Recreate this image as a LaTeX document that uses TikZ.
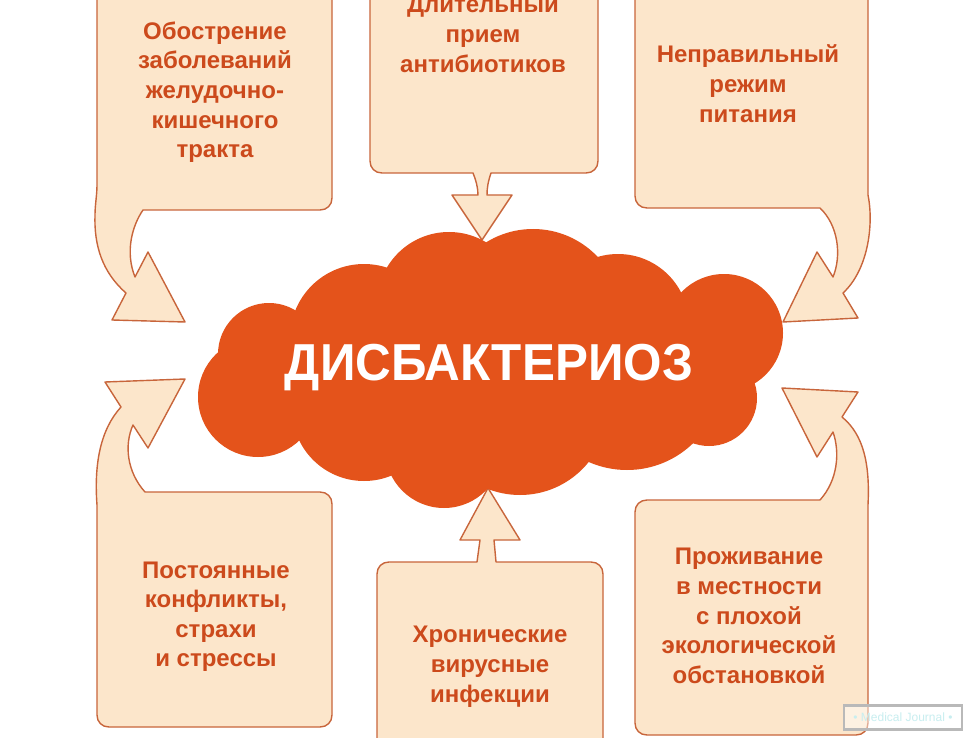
\documentclass[tikz,border=0pt]{standalone}
\usepackage{fontspec}
\setmainfont{Liberation Sans}
\definecolor{boxfill}{HTML}{FCE6CB}
\definecolor{boxline}{HTML}{C8653B}
\definecolor{txt}{HTML}{CC4A1C}
\definecolor{cloudc}{HTML}{E4531B}
\definecolor{wmtext}{HTML}{C8EEF0}
\begin{document}
\begin{tikzpicture}[x=1pt,y=-1pt,
  callout/.style={fill=boxfill,draw=boxline,line width=1.4pt,line join=round},
  lbl/.style={text=txt,font=\fontsize{24}{29.6}\selectfont\bfseries,align=center,inner sep=0pt},
  cloudpart/.style={fill=cloudc}]
\useasboundingbox (0,0) rectangle (969,738);
\clip (0,0) rectangle (969,738);
\fill[white] (0,0) rectangle (969,738);

% top-left callout
\path[callout] (97,-20) -- (332,-20) -- (332,198) .. controls (332,205) and (327,210) .. (320,210)
  -- (143,210) .. controls (132,226) and (125,252) .. (135,277) -- (148,252) -- (185,322) -- (112,320)
  -- (126,293) .. controls (102,272) and (94,245) .. (95,215) .. controls (95,205) and (97,195) .. (97,185) -- cycle;
% top-centre callout
\path[callout] (370,-20) -- (598,-20) -- (598,161) .. controls (598,168) and (593,173) .. (586,173)
  -- (491,173) .. controls (488,182) and (487,188) .. (487,195) -- (512,195) -- (482,240) -- (452,195)
  -- (478,195) .. controls (478,188) and (476,180) .. (473,173) -- (382,173) .. controls (375,173) and (370,168) .. (370,161) -- cycle;
% top-right callout
\path[callout] (635,-20) -- (868,-20) -- (868,195) .. controls (874,225) and (868,270) .. (843,293)
  -- (858,318) -- (783,322) -- (817,252) -- (833,277) .. controls (842,255) and (838,225) .. (820,208)
  -- (647,208) .. controls (640,208) and (635,203) .. (635,196) -- cycle;
% bottom-left callout
\path[callout] (145,492) -- (320,492) .. controls (327,492) and (332,497) .. (332,504) -- (332,715)
  .. controls (332,722) and (327,727) .. (320,727) -- (109,727) .. controls (102,727) and (97,722) .. (97,715)
  -- (97,505) .. controls (94,465) and (100,430) .. (121,407) -- (105,382) -- (185,379) -- (148,448)
  -- (133,425) .. controls (124,445) and (127,472) .. (145,492) -- cycle;
% bottom-centre callout
\path[callout] (377,760) -- (377,574) .. controls (377,567) and (382,562) .. (389,562) -- (477,562)
  -- (480,540) -- (460,540) -- (488,488) -- (520,540) -- (494,540) -- (496,562) -- (591,562)
  .. controls (598,562) and (603,567) .. (603,574) -- (603,760) -- cycle;
% bottom-right callout
\path[callout] (820,500) -- (647,500) .. controls (640,500) and (635,505) .. (635,512) -- (635,723)
  .. controls (635,730) and (640,735) .. (647,735) -- (856,735) .. controls (863,735) and (868,730) .. (868,723)
  -- (868,505) .. controls (870,465) and (864,435) .. (842,417) -- (858,392) -- (782,388) -- (817,457)
  -- (833,432) .. controls (840,452) and (838,480) .. (820,500) -- cycle;

% cloud
\fill[cloudpart] (490,370) ellipse [x radius=220pt, y radius=85pt];
\fill[cloudpart] (449,304) circle [radius=72pt];
\fill[cloudpart] (533,318) circle [radius=89pt];
\fill[cloudpart] (618,325) circle [radius=71pt];
\fill[cloudpart] (724,333) circle [radius=59pt];
\fill[cloudpart] (709,398) circle [radius=48pt];
\fill[cloudpart] (627,375) circle [radius=95pt];
\fill[cloudpart] (520,407) circle [radius=88pt];
\fill[cloudpart] (444,449) circle [radius=59pt];
\fill[cloudpart] (364,409) circle [radius=72pt];
\fill[cloudpart] (258,397) circle [radius=60pt];
\fill[cloudpart] (269,354) circle [radius=51pt];
\fill[cloudpart] (364,338) circle [radius=74pt];

\node[text=white,font=\fontsize{52}{60}\selectfont\bfseries,anchor=base,inner sep=0pt] (main) at (489,380) {\scalebox{0.95}[1]{ДИСБАКТЕРИОЗ}};

\node[lbl] (tl) at (215,92.6) {\strut Обострение\\заболеваний\\желудочно-\\кишечного\\тракта\strut};
\node[lbl] (tc) at (483,36.6) {\strut Длительный\\прием\\антибиотиков\strut};
\node[lbl] (tr) at (748,86.6) {\strut Неправильный\\режим\\питания\strut};
\node[lbl] (bl) at (216,616.6) {\strut Постоянные\\конфликты,\\страхи\\и стрессы\strut};
\node[lbl] (bc) at (490,666.6) {\strut Хронические\\вирусные\\инфекции\strut};
\node[lbl] (br) at (749,618.1) {\strut Проживание\\в местности\\с плохой\\экологической\\обстановкой\strut};

\node[draw=gray!55,line width=2.5pt,fill=white,fill opacity=0.45,text opacity=1,text=wmtext,
  font=\fontsize{12}{14}\selectfont,minimum width=118pt,minimum height=24pt,inner sep=0pt] (wm) at (903,717.5) {• Medical Journal •};
\end{tikzpicture}
\end{document}
